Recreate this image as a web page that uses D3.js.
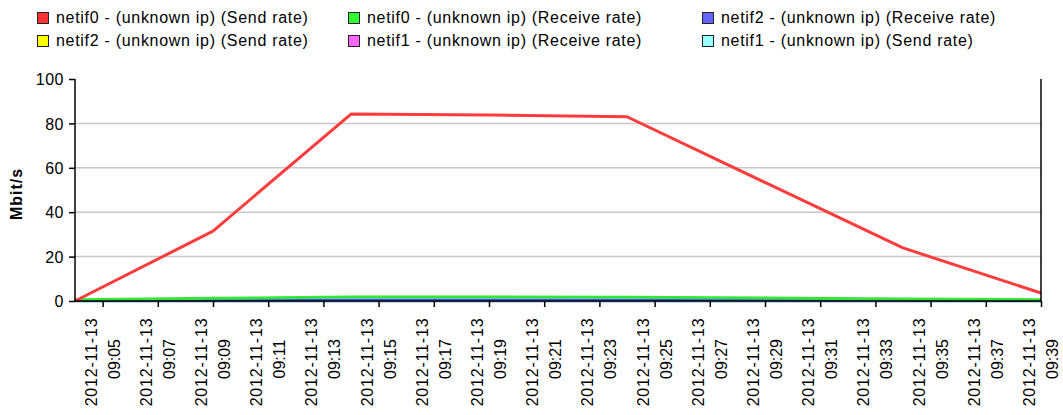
<!DOCTYPE html>
<html><head><meta charset="utf-8">
<script src="https://cdn.jsdelivr.net/npm/d3@7/dist/d3.min.js"></script>
<style>
body{margin:0;background:#fff;}
text{font-family:"Liberation Sans",Arial,sans-serif;fill:#000;}
</style></head>
<body><svg id="c" width="1063" height="415"></svg>
<script>
const times = ["09:04","09:09","09:14","09:19","09:24","09:29","09:34","09:39"];
const netif0Send = [0, 31.5, 84.2, 83.8, 83.0, 53.4, 23.9, 3.6];
const netif0Recv = [0.6, 1.2, 1.8, 1.8, 1.7, 1.3, 0.9, 0.6];
const netif2Recv = [0.2, 0.3, 0.5, 0.5, 0.5, 0.4, 0.3, 0.2];
const netif2Send = [0, 0, 0, 0, 0, 0, 0, 0];
const netif1Recv = [0, 0, 0, 0, 0, 0, 0, 0];
const netif1Send = [0, 0, 0, 0, 0, 0, 0, 0];
const seriesNames = ["netif0 - (unknown ip) (Send rate)","netif0 - (unknown ip) (Receive rate)","netif2 - (unknown ip) (Receive rate)",
  "netif2 - (unknown ip) (Send rate)","netif1 - (unknown ip) (Receive rate)","netif1 - (unknown ip) (Send rate)"];
const yTicks = [0,20,40,60,80,100];
const xTickTimes = ["09:05","09:07","09:09","09:11","09:13","09:15","09:17","09:19","09:21","09:23","09:25","09:27","09:29","09:31","09:33","09:35","09:37","09:39"];
const dateLabel = "2012-11-13";
const yLabel = "Mbit/s";

const seriesValues = [netif0Send, netif0Recv, netif2Recv, netif2Send, netif1Recv, netif1Send];
const lineColors = ["#ff3c3c","#33e833","#4d4dff","#ffff00","#ff55ff","#88ffff"];
const boxColors = ["#ff3333","#33ff33","#6666ff","#ffff00","#ff66ff","#99ffff"];
const drawOrder = [3,4,5,2,1,0];

const parse = d3.timeParse("%Y-%m-%d %H:%M");
const svg = d3.select("#c");
const L=75,R=1041,T=79,B=301;
const x = d3.scaleTime().domain([parse(dateLabel+" 09:04"), parse(dateLabel+" 09:39")]).range([L,R]);
const y = d3.scaleLinear().domain([0,100]).range([B,T]);

// grid
svg.append("g").selectAll("line").data(yTicks.filter(v=>v>0 && v<100)).join("line")
  .attr("x1",L).attr("x2",R).attr("y1",d=>y(d)).attr("y2",d=>y(d))
  .attr("stroke","#c8c8c8").attr("stroke-width",1.5);

// lines
const line = d3.line().x((d,i)=>x(parse(dateLabel+" "+times[i]))).y(d=>y(d));
drawOrder.forEach(k=>{
  svg.append("path").datum(seriesValues[k]).attr("d",line)
    .attr("fill","none").attr("stroke",lineColors[k]).attr("stroke-width",3)
    .attr("stroke-linejoin","round");
});

// y axis
const ya = svg.append("g").attr("transform",`translate(${L},0)`)
  .call(d3.axisLeft(y).tickValues(yTicks).tickSize(6).tickPadding(5));
ya.select(".domain").attr("stroke","#000").attr("stroke-width",1.5).attr("d",`M0,${T}V${B}`);
ya.selectAll(".tick line").attr("stroke","#000").attr("stroke-width",1.5);
ya.selectAll(".tick text").attr("font-size",16).attr("letter-spacing",0.5).attr("font-family","Liberation Sans, Arial, sans-serif").attr("dy","0.35em");

// x axis
const xa = svg.append("g").attr("transform",`translate(0,${B})`)
  .call(d3.axisBottom(x).tickValues(xTickTimes.map(t=>parse(dateLabel+" "+t))).tickSize(6).tickFormat(""));
xa.select(".domain").attr("stroke","#000").attr("stroke-width",1.5).attr("d",`M${L},0H${R}`);
xa.selectAll(".tick line").attr("stroke","#000").attr("stroke-width",1.5);
xa.selectAll(".tick text").remove();
xa.selectAll(".tick").each(function(d,i){
  const g = d3.select(this);
  const t = g.append("text").attr("transform","rotate(-90)").attr("text-anchor","middle")
    .attr("font-family","Liberation Sans, Arial, sans-serif").attr("fill","#000");
  t.append("tspan").attr("x",-61).attr("y",-6.5).attr("font-size",16).attr("letter-spacing",0.8).text(dateLabel);
  t.append("tspan").attr("x",-58).attr("y",16.5).attr("font-size",16).text(xTickTimes[i]);
});

// right border
svg.append("line").attr("x1",R).attr("x2",R).attr("y1",T).attr("y2",B).attr("stroke","#000").attr("stroke-width",1.5);

// y label
svg.append("text").attr("transform",`translate(22,194) rotate(-90)`).attr("text-anchor","middle")
  .attr("font-size",16).attr("font-weight","bold").attr("letter-spacing",1).text(yLabel);

// legend
const legX=[37,348,702], legY=[12,35];
seriesNames.forEach((n,i)=>{
  const col=i%3,row=Math.floor(i/3);
  const g=svg.append("g").attr("transform",`translate(${legX[col]},${legY[row]})`);
  g.append("rect").attr("x",0.5).attr("y",0.5).attr("width",11).attr("height",11)
    .attr("fill",boxColors[i]).attr("stroke","#222").attr("stroke-width",1);
  g.append("text").attr("x",19).attr("y",11).attr("font-size",16).attr("letter-spacing",0.7).text(n);
});
</script></body></html>
